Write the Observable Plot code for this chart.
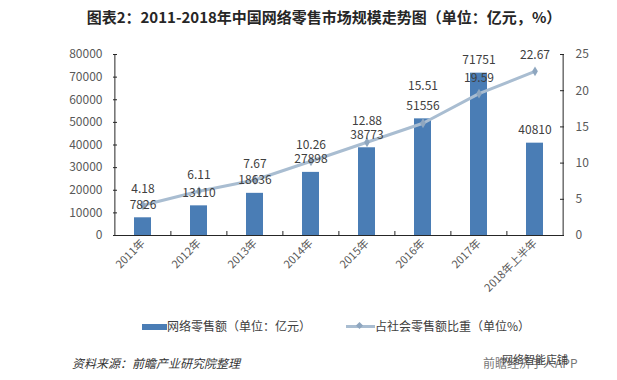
<!DOCTYPE html>
<html>
<head>
<meta charset="utf-8">
<script src="https://cdn.jsdelivr.net/npm/d3@7"></script>
<script src="https://cdn.jsdelivr.net/npm/@observablehq/plot@0.6"></script>
<style>
  html, body { margin: 0; padding: 0; background: #fff; }
  #wrap { position: relative; width: 617px; height: 380px; overflow: hidden; font-family: "Noto Sans CJK SC", "Noto Sans", sans-serif; }
  #title { position: absolute; left: 0; top: 6px; width: 617px; padding-left: 31px; box-sizing: border-box; text-align: center; font-size: 15px; font-weight: bold; color: #262626; line-height: 22px; white-space: nowrap; }
  #chart { position: absolute; left: 0; top: 36px; }
  .leg { position: absolute; font-size: 12px; color: #404040; line-height: 16px; white-space: nowrap; }
  #foot { position: absolute; left: 72px; top: 354px; font-size: 12px; font-style: italic; color: #333; white-space: nowrap; }
  #wm1 { position: absolute; left: 483px; top: 354px; font-size: 12px; color: #777; white-space: nowrap; }
  #wm2 { position: absolute; left: 502px; top: 351px; font-size: 11px; color: #444; white-space: nowrap; }
</style>
</head>
<body>
<div id="wrap">
  <div id="chart"></div>
  <div id="title">图表2：2011-2018年中国网络零售市场规模走势图（单位：亿元，%）</div>
  <div class="leg" style="left:142px; top:318px;"><span style="display:inline-block;width:25px;height:6px;background:#4a7db5;vertical-align:middle;margin-right:0px;position:relative;top:-1px;"></span>网络零售额（单位：亿元）</div>
  <div class="leg" style="left:346px; top:318px;"><span style="display:inline-block;width:29px;height:3px;background:#a9bdd1;vertical-align:middle;position:relative;top:-1px;"><span style="position:absolute;left:11px;top:-2.5px;width:5px;height:5px;background:#8ea6bf;transform:rotate(45deg);"></span></span>占社会零售额比重（单位%）</div>
  <div id="foot">资料来源：前瞻产业研究院整理</div>
  <div id="wm1">前瞻经济学人APP</div>
  <div id="wm2">网络智能店铺</div>
</div>
<script>
const years = ["2011年", "2012年", "2013年", "2014年", "2015年", "2016年", "2017年", "2018年上半年"];
const sales = [7826, 13110, 18636, 27898, 38773, 51556, 71751, 40810];
const share = [4.18, 6.11, 7.67, 10.26, 12.88, 15.51, 19.59, 22.67];
const leftTicks = [0, 10000, 20000, 30000, 40000, 50000, 60000, 70000, 80000];
const rightTicks = [0, 5, 10, 15, 20, 25];

const K = 80000 / 25; // right-axis to left-axis conversion
const data = years.map((year, i) => ({year, sales: sales[i], share: share[i], s: share[i] * K}));
const half = 28.125; // half band step in px
const axisColor = "#262626";

const normal = data.filter(d => d.year !== "2015年" && d.year !== "2016年");
const y2015 = data.filter(d => d.year === "2015年");
const y2016 = data.filter(d => d.year === "2016年");

const plot = Plot.plot({
  width: 617,
  height: 274,
  marginTop: 18,
  marginBottom: 75,
  marginLeft: 113,
  marginRight: 54,
  style: {background: "transparent", fontFamily: "'Noto Sans CJK SC', 'Noto Sans', sans-serif", fontSize: "12px", color: "#595959"},
  x: {domain: years, paddingInner: 0.7, paddingOuter: 0.35, axis: null},
  y: {domain: [0, 80000], axis: null},
  marks: [
    Plot.barY(data, {x: "year", y: "sales", fill: "#4a7db5"}),
    Plot.line(data, {x: "year", y: "s", stroke: "#a9bdd1", strokeWidth: 3}),
    Plot.dot(data, {x: "year", y: "s", symbol: "diamond", r: 3, fill: "#8ea6bf"}),
    Plot.text(data, {x: "year", y: "sales", text: d => String(d.sales), dy: -13, fill: "#404040", fontSize: 12}),
    Plot.text(normal, {x: "year", y: "s", text: d => d.share.toFixed(2), dy: -16, fill: "#404040", fontSize: 12}),
    Plot.text(y2015, {x: "year", y: "s", text: d => d.share.toFixed(2), dy: -21, fill: "#404040", fontSize: 12}),
    Plot.text(y2016, {x: "year", y: "s", text: d => d.share.toFixed(2), dy: -37, fill: "#404040", fontSize: 12}),
    Plot.ruleY([0], {stroke: axisColor}),
    Plot.ruleX([years[0]], {dx: -half, stroke: axisColor}),
    Plot.ruleX([years[years.length - 1]], {dx: half, stroke: axisColor}),
    Plot.ruleX(years.slice(1), {y1: 0, y2: 1770, dx: -half, stroke: axisColor}),
    Plot.axisY(leftTicks, {anchor: "left", tickSize: -4, tickPadding: 15, tickFormat: d => String(d), stroke: axisColor, fontSize: 12, label: null}),
    Plot.axisY(rightTicks.map(v => v * K), {anchor: "right", tickSize: -4, tickPadding: 16, tickFormat: v => String(Math.round(v / K)), stroke: axisColor, fontSize: 12, label: null}),
    Plot.axisX({tickRotate: -45, tickSize: 0, tickPadding: 6, fontSize: 11, label: null})
  ]
});
document.getElementById("chart").appendChild(plot);
</script>
</body>
</html>
